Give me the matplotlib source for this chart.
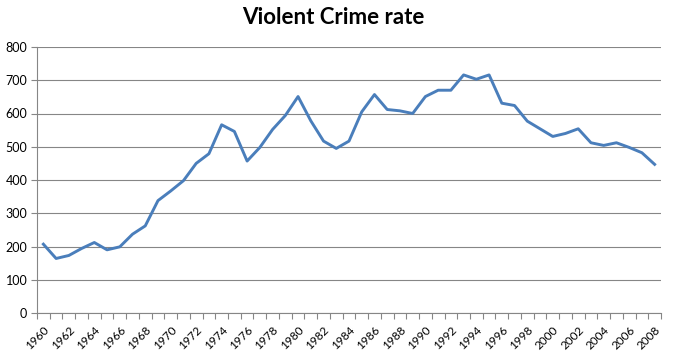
import numpy as np
import matplotlib
matplotlib.use("Agg")
import matplotlib.pyplot as plt

# Datos
years = list(range(1960, 2009))
rate = [207, 164, 173, 194, 212, 190, 199, 237, 262, 338,
        367, 398, 450, 479, 566, 546, 457, 498, 552, 594,
        651, 578, 517, 495, 517, 605, 657, 612, 608, 600,
        651, 670, 670, 716, 703, 716, 631, 624, 577, 554,
        531, 540, 554, 512, 504, 512, 498, 482, 447]
y_ticks = [0, 100, 200, 300, 400, 500, 600, 700, 800]

plt.rcParams['font.family'] = ['Lato', 'DejaVu Sans']

fig = plt.figure(figsize=(6.75, 3.62), dpi=100)
ax = fig.add_axes([37 / 675, 1 - 313 / 362, 624 / 675, 266 / 362])

gray = '#868686'
x = np.arange(len(years))
ax.plot(x, rate, color='#4A7EBB', linewidth=2.1, solid_joinstyle='round', zorder=3)

ax.set_xlim(-0.5, len(years) - 0.5)
ax.set_ylim(0, 800)
ax.set_yticks(y_ticks)
ax.set_yticklabels([str(v) for v in y_ticks], fontsize=9)
ax.grid(axis='y', color=gray, linewidth=0.8)
ax.set_axisbelow(True)

# etiquetas cada dos anios, marcas entre categorias
ax.set_xticks(x[::2])
ax.set_xticklabels([str(y) for y in years[::2]], rotation=45, ha='right',
                   rotation_mode='anchor', fontsize=8.5)
ax.tick_params(axis='x', which='major', length=0, pad=8)
ax.set_xticks(np.arange(-0.5, len(years), 1), minor=True)
ax.tick_params(axis='x', which='minor', length=4, color=gray, width=0.8)
ax.tick_params(axis='y', length=4, color=gray, width=0.8, pad=3)

for s in ['top', 'right']:
    ax.spines[s].set_visible(False)
for s in ['left', 'bottom']:
    ax.spines[s].set_color(gray)
    ax.spines[s].set_linewidth(0.8)

fig.text(0.494, 0.952, 'Violent Crime rate', ha='center', va='center',
         fontsize=16, fontweight='bold')

fig.savefig('out.png', dpi=100)
